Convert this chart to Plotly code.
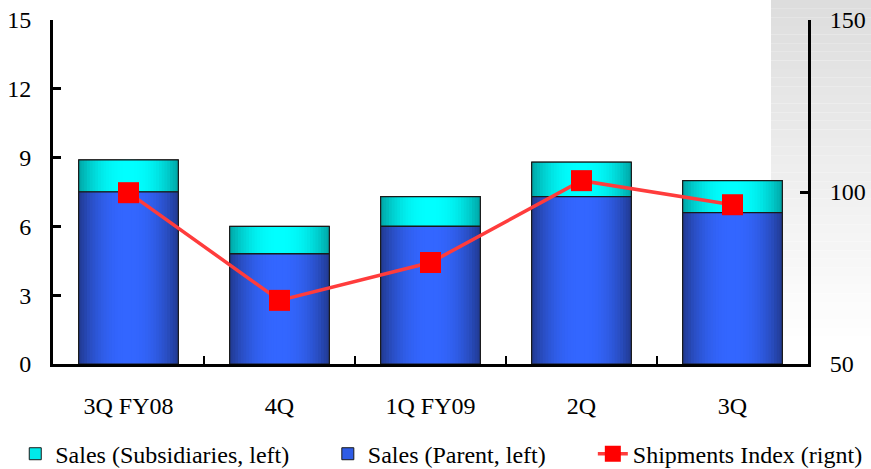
import plotly.graph_objects as go

# Quarterly data
quarters = ["3Q FY08", "4Q", "1Q FY09", "2Q", "3Q"]
sales_parent = [7.5, 4.8, 6.0, 7.3, 6.6]
sales_subsidiaries = [1.4, 1.2, 1.3, 1.5, 1.4]
shipments_index = [99.8, 68.5, 79.5, 103.3, 96.3]

FONT = "Times New Roman"
BAR_W = 0.66
N_LAYERS = 18


def lerp(c1, c2, t):
    return "rgb(%d,%d,%d)" % tuple(round(a + (b - a) * t) for a, b in zip(c1, c2))


def shade_profile(t):
    # smooth rise from dark edge to bright centre
    return 1 - (1 - t) ** 2.2


series = [
    # name, values, base, edge colour, centre colour, legend id
    ("Sales (Subsidiaries, left)", sales_subsidiaries, sales_parent,
     (0, 170, 170), (0, 255, 255), "legend"),
    ("Sales (Parent, left)", sales_parent, [0] * len(sales_parent),
     (34, 60, 150), (51, 102, 255), "legend2"),
]

fig = go.Figure()

for name, vals, base, edge, centre, leg in series:
    # legend entry (fully covered by the shaded layers)
    fig.add_trace(go.Bar(
        x=quarters, y=vals, base=base, width=BAR_W, name=name,
        marker=dict(color=lerp(edge, centre, 0.75), line=dict(color="#1a1a1a", width=1)),
        legend=leg, hoverinfo="skip",
    ))
    # nested layers give a horizontal dark-bright-dark shading
    for k in range(N_LAYERS):
        t = k / (N_LAYERS - 1)
        fig.add_trace(go.Bar(
            x=quarters, y=vals, base=base, width=BAR_W * (1 - k / N_LAYERS),
            marker=dict(color=lerp(edge, centre, shade_profile(t)), line=dict(width=0)),
            showlegend=False, hoverinfo="skip",
        ))
    # crisp outline on top
    fig.add_trace(go.Bar(
        x=quarters, y=vals, base=base, width=BAR_W,
        marker=dict(color="rgba(0,0,0,0)", line=dict(color="#1a1a1a", width=1.2)),
        showlegend=False, hoverinfo="skip",
    ))

fig.add_trace(go.Scatter(
    x=quarters, y=shipments_index, yaxis="y2", mode="lines+markers",
    name="Shipments Index (rignt)",
    line=dict(color="#ff3c3c", width=3.5),
    marker=dict(symbol="square", size=21, color="#ff0000"),
    legend="legend3",
))

# light grey wash behind the right-hand axis
shapes = []
top_px, bottom_px, plot_top, plot_bottom = 0, 345, 20, 364
n_strips = 40
for i in range(n_strips):
    y0px = top_px + (bottom_px - top_px) * i / n_strips
    y1px = top_px + (bottom_px - top_px) * (i + 1) / n_strips
    g = round(221 + (255 - 221) * (i / (n_strips - 1)))
    shapes.append(dict(
        type="rect", xref="paper", yref="paper", layer="below",
        x0=(771 - 53) / 755, x1=(871 - 53) / 755 + 0.01,
        y0=(plot_bottom - y1px) / (plot_bottom - plot_top),
        y1=(plot_bottom - y0px) / (plot_bottom - plot_top),
        fillcolor="rgb(%d,%d,%d)" % (g, g, g), line=dict(width=0),
    ))

legend_common = dict(
    orientation="h", xref="paper", yref="paper", xanchor="left",
    y=-0.262, yanchor="middle", font=dict(size=24), itemwidth=30,
    bgcolor="rgba(0,0,0,0)",
)

fig.update_layout(
    width=871, height=469,
    margin=dict(l=53, r=63, t=20, b=105, autoexpand=False),
    barmode="overlay",
    paper_bgcolor="white",
    plot_bgcolor="rgba(0,0,0,0)",
    font=dict(family=FONT, size=24, color="black"),
    shapes=shapes,
    xaxis=dict(
        type="category", showgrid=False, showline=True, linecolor="black", linewidth=3,
        ticks="inside", tickson="boundaries", ticklen=8, tickwidth=2, tickcolor="black",
        ticklabelstandoff=18, tickfont=dict(size=24), automargin=False,
    ),
    yaxis=dict(
        range=[0, 15], dtick=3, showgrid=False, zeroline=False,
        showline=True, linecolor="black", linewidth=3,
        ticks="inside", ticklen=8, tickwidth=3, tickcolor="black",
        ticklabelstandoff=14, tickfont=dict(size=24), automargin=False,
    ),
    yaxis2=dict(
        range=[50, 150], dtick=50, overlaying="y", side="right", showgrid=False,
        zeroline=False, showline=True, linecolor="black", linewidth=3,
        ticks="inside", ticklen=8, tickwidth=3, tickcolor="black",
        ticklabelstandoff=14, tickfont=dict(size=24), automargin=False,
    ),
    legend=dict(legend_common, x=-0.05),
    legend2=dict(legend_common, x=0.364),
    legend3=dict(legend_common, x=0.715),
    showlegend=True,
)

fig.write_html("out.html")
